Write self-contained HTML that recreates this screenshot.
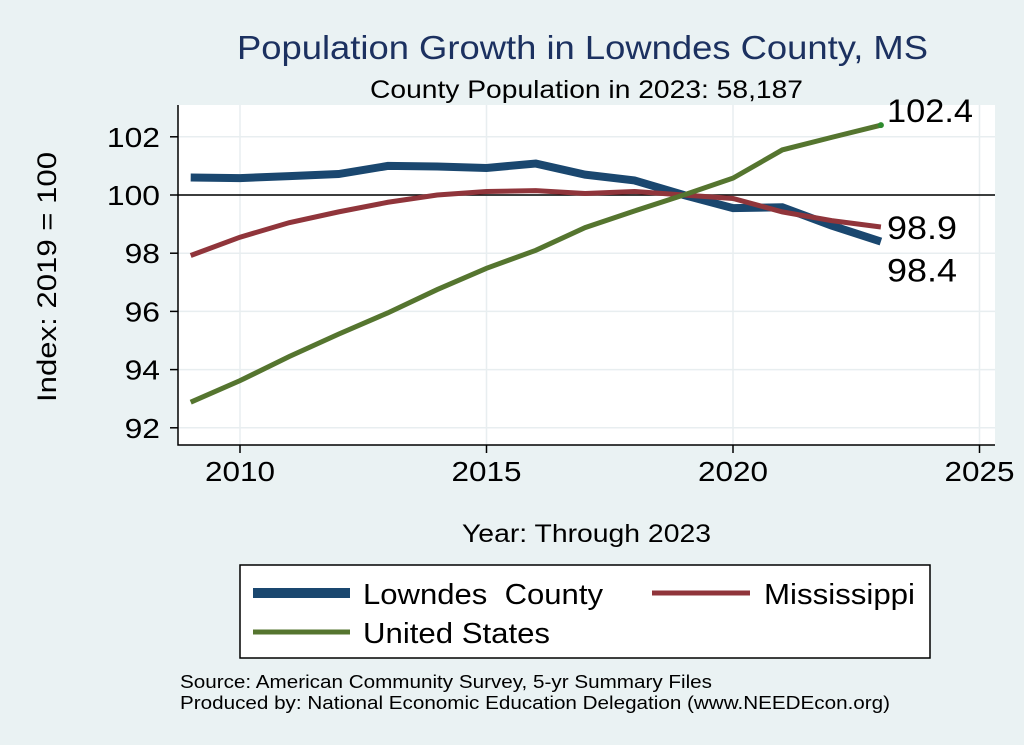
<!DOCTYPE html>
<html><head><meta charset="utf-8"><style>
body{margin:0;background:#eaf2f3;}
svg{display:block;font-family:"Liberation Sans",sans-serif;}
</style></head><body>
<svg id="chart" width="1024" height="745">
<rect x="0" y="0" width="1024" height="745" fill="#eaf2f3"/>
<rect x="178" y="105" width="817" height="340" fill="#fff"/>
<text x="237" y="59" font-size="33" fill="#1c3160" textLength="691" lengthAdjust="spacingAndGlyphs">Population Growth in Lowndes County, MS</text>
<text x="370" y="98" font-size="25" textLength="433" lengthAdjust="spacingAndGlyphs">County Population in 2023: 58,187</text>
<text x="56" y="277" font-size="27" text-anchor="middle" textLength="250" lengthAdjust="spacingAndGlyphs" transform="rotate(-90 56 277)">Index: 2019 = 100</text>
<text x="462" y="542" font-size="25" textLength="249" lengthAdjust="spacingAndGlyphs">Year: Through 2023</text>
<g id="grid"></g><g id="axes"></g><g id="series"></g>
<rect x="240" y="565" width="690" height="93" fill="#fff" stroke="#000" stroke-width="1.5"/>
<g><line x1="253" y1="593" x2="350" y2="593" stroke="#1a476f" stroke-width="10"/><text x="363" y="604" font-size="29" textLength="240" lengthAdjust="spacingAndGlyphs" xml:space="preserve">Lowndes  County</text></g>
<g><line x1="652" y1="593" x2="750" y2="593" stroke="#90353b" stroke-width="5"/><text x="764" y="604" font-size="29" textLength="151" lengthAdjust="spacingAndGlyphs">Mississippi</text></g>
<g><line x1="253" y1="632" x2="350" y2="632" stroke="#55752f" stroke-width="5"/><text x="363" y="643" font-size="29" textLength="187" lengthAdjust="spacingAndGlyphs">United States</text></g>
<text x="180" y="688" font-size="18" textLength="532" lengthAdjust="spacingAndGlyphs">Source: American Community Survey, 5-yr Summary Files</text>
<text x="180" y="709" font-size="18" textLength="710" lengthAdjust="spacingAndGlyphs">Produced by: National Economic Education Delegation (www.NEEDEcon.org)</text>
</svg>
<script>
const years=[2009,2010,2011,2012,2013,2014,2015,2016,2017,2018,2019,2020,2021,2022,2023];
const lowndes=[100.6,100.58,100.65,100.72,101.0,100.98,100.93,101.08,100.7,100.5,100.0,99.55,99.58,98.95,98.4];
const mississippi=[97.92,98.55,99.05,99.42,99.75,100.0,100.12,100.15,100.05,100.12,100.0,99.88,99.42,99.12,98.9];
const unitedStates=[92.88,93.62,94.45,95.22,95.95,96.75,97.48,98.1,98.88,99.45,100.0,100.58,101.55,101.98,102.4];
const xTicks=[2010,2015,2020,2025];
const yTicks=[92,94,96,98,100,102];
const NS="http://www.w3.org/2000/svg";
const xs=v=>240+(v-2010)*49.3;
const ys=v=>195-(v-100)*29.1;
function mk(tag,attrs,parent){const e=document.createElementNS(NS,tag);for(const k in attrs)e.setAttribute(k,attrs[k]);parent.appendChild(e);return e;}
const grid=document.getElementById('grid'),axes=document.getElementById('axes'),ser=document.getElementById('series');
yTicks.forEach(t=>{
 const g=mk('line',{x1:178,x2:995,y1:ys(t),y2:ys(t),stroke:'#e8eef0','stroke-width':1.5},grid);
 
 
 const tk=mk('line',{x1:170,x2:178,y1:ys(t),y2:ys(t),stroke:'#000','stroke-width':1.5},axes);
 
 
 const lb=mk('text',{x:160,y:ys(t)+10,'font-size':28,'text-anchor':'end',textLength:(String(t).length*17.7),lengthAdjust:'spacingAndGlyphs'},axes);lb.textContent=t;
 
 
});
xTicks.forEach(t=>{
 const g=mk('line',{x1:xs(t),x2:xs(t),y1:105,y2:445,stroke:'#e8eef0','stroke-width':1.5},grid);
 
 
 const tk=mk('line',{x1:xs(t),x2:xs(t),y1:445,y2:453,stroke:'#000','stroke-width':1.5},axes);
 
 
 const lb=mk('text',{x:xs(t),y:481,'font-size':28,'text-anchor':'middle',textLength:70,lengthAdjust:'spacingAndGlyphs'},axes);lb.textContent=t;
 
 
});
const ax=mk('path',{d:'M178 105 V445 H995',fill:'none',stroke:'#000','stroke-width':1.5},axes);


const ref=mk('line',{x1:178,x2:995,y1:ys(100),y2:ys(100),stroke:'#000','stroke-width':1.5},axes);


function line(vals,color,w,name){
 const p=mk('polyline',{points:vals.map((v,i)=>xs(years[i])+','+ys(v)).join(' '),fill:'none',stroke:color,'stroke-width':w},ser);
 
 
}
line(lowndes,'#1a476f',8,'series-lowndes');
line(mississippi,'#90353b',5,'series-mississippi');
line(unitedStates,'#55752f',5,'series-united-states');
const n=years.length-1;
const d=mk('circle',{cx:xs(years[n]),cy:ys(unitedStates[n]),r:3,fill:'#2e8b2e'},ser);


function lab(v,y,w,name){const t=mk('text',{x:887,y:y,'font-size':32,textLength:w,lengthAdjust:'spacingAndGlyphs'},ser);t.textContent=v.toFixed(1);
 
 }
lab(unitedStates[n],ys(unitedStates[n])-3,86,'label-us-2023');
lab(mississippi[n],ys(mississippi[n])+12,70,'label-mississippi-2023');
lab(lowndes[n],ys(lowndes[n])+40,70,'label-lowndes-2023');
</script>
</body></html>
